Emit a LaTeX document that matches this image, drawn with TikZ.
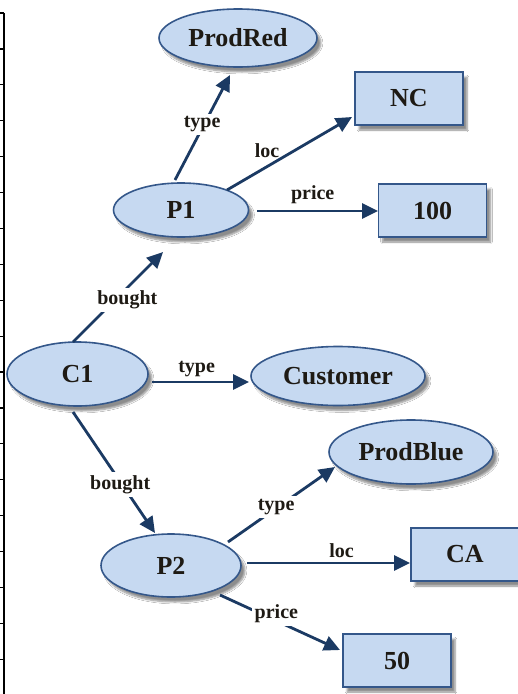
\documentclass[tikz,border=0pt]{standalone}
\usepackage{fontspec}
\setmainfont{Liberation Serif}
\usetikzlibrary{shapes.geometric,arrows.meta,shadows.blur}
\definecolor{nodefill}{HTML}{C6D9F1}
\definecolor{nodeborder}{HTML}{34578A}
\definecolor{arrowcol}{HTML}{1B3A63}
\definecolor{txt}{HTML}{1E1A14}
\begin{document}
\begin{tikzpicture}[x=1pt,y=-1pt,
  base/.style={fill=nodefill, draw=nodeborder, line width=1.6pt, text=txt,
    font=\fontsize{26}{30}\selectfont\bfseries, inner sep=0pt,
    blur shadow={shadow xshift=4pt, shadow yshift=-5pt, shadow blur steps=6, shadow opacity=45}},
  ell/.style={base, ellipse},
  box/.style={base, rectangle, minimum width=108pt, minimum height=53pt},
  rel/.style={draw=arrowcol, line width=2.8pt, -{Triangle[length=16pt,width=15pt]}},
  lab/.style={font=\fontsize{20}{24}\selectfont\bfseries, text=txt, inner sep=3pt},
  onlab/.style={lab, fill=white},
]
\useasboundingbox (0,0) rectangle (518,694);
\fill[white] (0,0) rectangle (518,694);

% ruler at left edge
\draw[line width=2.2pt, black] (4,13) -- (4,694);
\foreach \k in {0,...,18} \draw[line width=1.2pt, black] (0,{13+35.9*\k}) -- (4,{13+35.9*\k});

% nodes
\node[ell, minimum width=158pt, minimum height=58pt] (ProdRed) at (238,38) {ProdRed};
\node[box] (NC) at (409,98.5) {NC};
\node[ell, minimum width=135pt, minimum height=54pt] (P1) at (181,210) {P1};
\node[box] (v100) at (432.5,210.5) {100};
\node[ell, minimum width=141pt, minimum height=64pt] (C1) at (77.5,374) {C1};
\node[ell, minimum width=174pt, minimum height=59pt] (Customer) at (338,376) {Customer};
\node[ell, minimum width=164pt, minimum height=64pt] (ProdBlue) at (411,452) {ProdBlue};
\node[ell, minimum width=140pt, minimum height=63pt] (P2) at (171,565.5) {P2};
\node[box] (CA) at (465,554.5) {CA};
\node[box] (v50) at (397,660.5) {50};

% connectors
\draw[rel] ([shift={(-4.5,-32)}]C1.center) -- ([shift={(-18,42)}]P1.center)
  node[onlab, pos=0.47, xshift=12pt] {bought};
\draw[rel] ([shift={(-6,-30)}]P1.center) -- ([shift={(-8,37)}]ProdRed.center)
  node[onlab, pos=0.53, xshift=-2pt] {type};
\draw[rel] ([shift={(46,-20)}]P1.center) -- ([shift={(-57,18.5)}]NC.center)
  node[lab, pos=0.32, yshift=16pt] {loc};
\draw[rel] ([shift={(76,1)}]P1.center) -- ([shift={(-54.5,0.5)}]v100.center)
  node[lab, pos=0.46, yshift=16pt] {price};
\draw[rel] ([shift={(74.5,8)}]C1.center) -- ([shift={(-89,6)}]Customer.center)
  node[lab, pos=0.46, yshift=13pt] {type};
\draw[rel] ([shift={(-4.5,38)}]C1.center) -- ([shift={(-16,-32.5)}]P2.center)
  node[onlab, pos=0.6, xshift=-2pt] {bought};
\draw[rel] ([shift={(57,-23.5)}]P2.center) -- ([shift={(-76,15)}]ProdBlue.center)
  node[onlab, pos=0.45, yshift=1pt] {type};
\draw[rel] ([shift={(76,-2.5)}]P2.center) -- ([shift={(-55,8.5)}]CA.center)
  node[lab, pos=0.58, yshift=12.5pt] {loc};
\draw[rel] ([shift={(49,29.5)}]P2.center) -- ([shift={(-57,-10.5)}]v50.center)
  node[onlab, pos=0.47, yshift=7pt] {price};
\end{tikzpicture}
\end{document}
